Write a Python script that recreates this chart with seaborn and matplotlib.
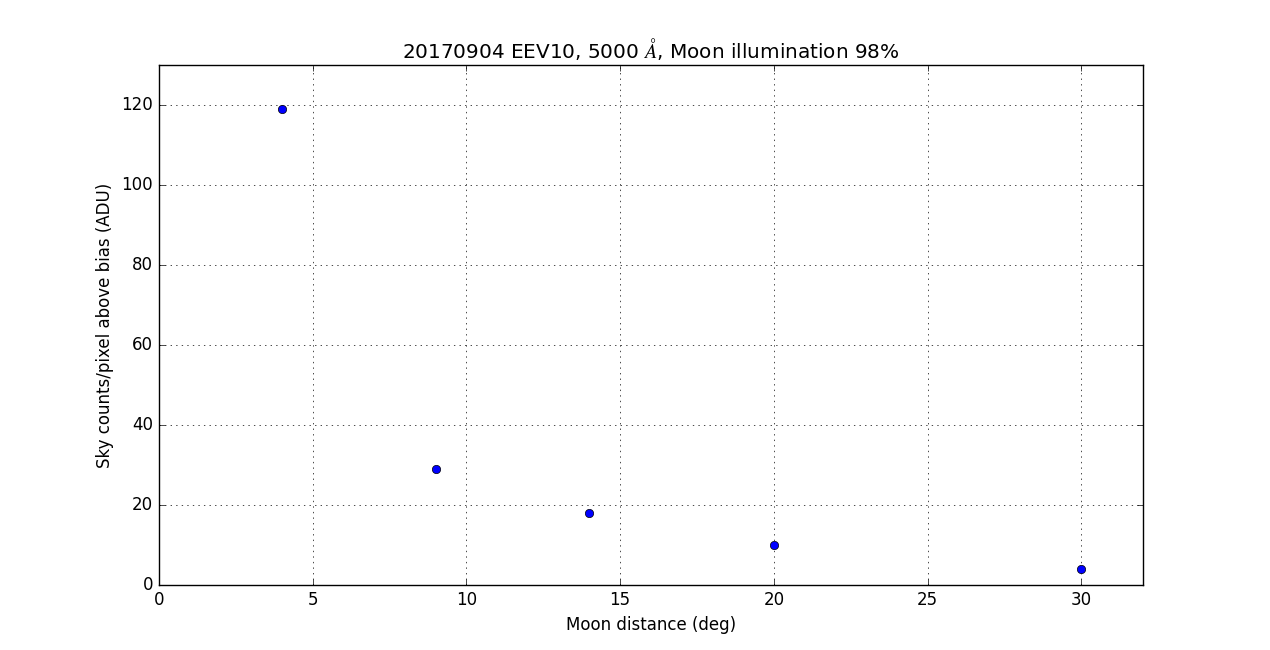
import matplotlib
matplotlib.use("Agg")
import matplotlib.pyplot as plt
import seaborn as sns
import pandas as pd

moon_distance = [4, 9, 14, 20, 30]
sky_counts = [119, 29, 18, 10, 4]

plt.style.use("classic")
df = pd.DataFrame({"dist": moon_distance, "counts": sky_counts})

fig, ax = plt.subplots(figsize=(12.7, 6.5), dpi=100)
fig.patch.set_facecolor("white")
sns.scatterplot(data=df, x="dist", y="counts", ax=ax, color="blue",
                edgecolor="black", linewidth=0.5, s=36, marker="o", zorder=3)
ax.set_xlim(0, 32)
ax.set_ylim(0, 130)
ax.set_xticks([0, 5, 10, 15, 20, 25, 30])
ax.set_yticks([0, 20, 40, 60, 80, 100, 120])
ax.grid(True)
ax.set_xlabel("Moon distance (deg)")
ax.set_ylabel("Sky counts/pixel above bias (ADU)")
ax.set_title(r"20170904 EEV10, 5000 $\AA$, Moon illumination 98%")
fig.savefig("out.png", dpi=100, facecolor="white")
